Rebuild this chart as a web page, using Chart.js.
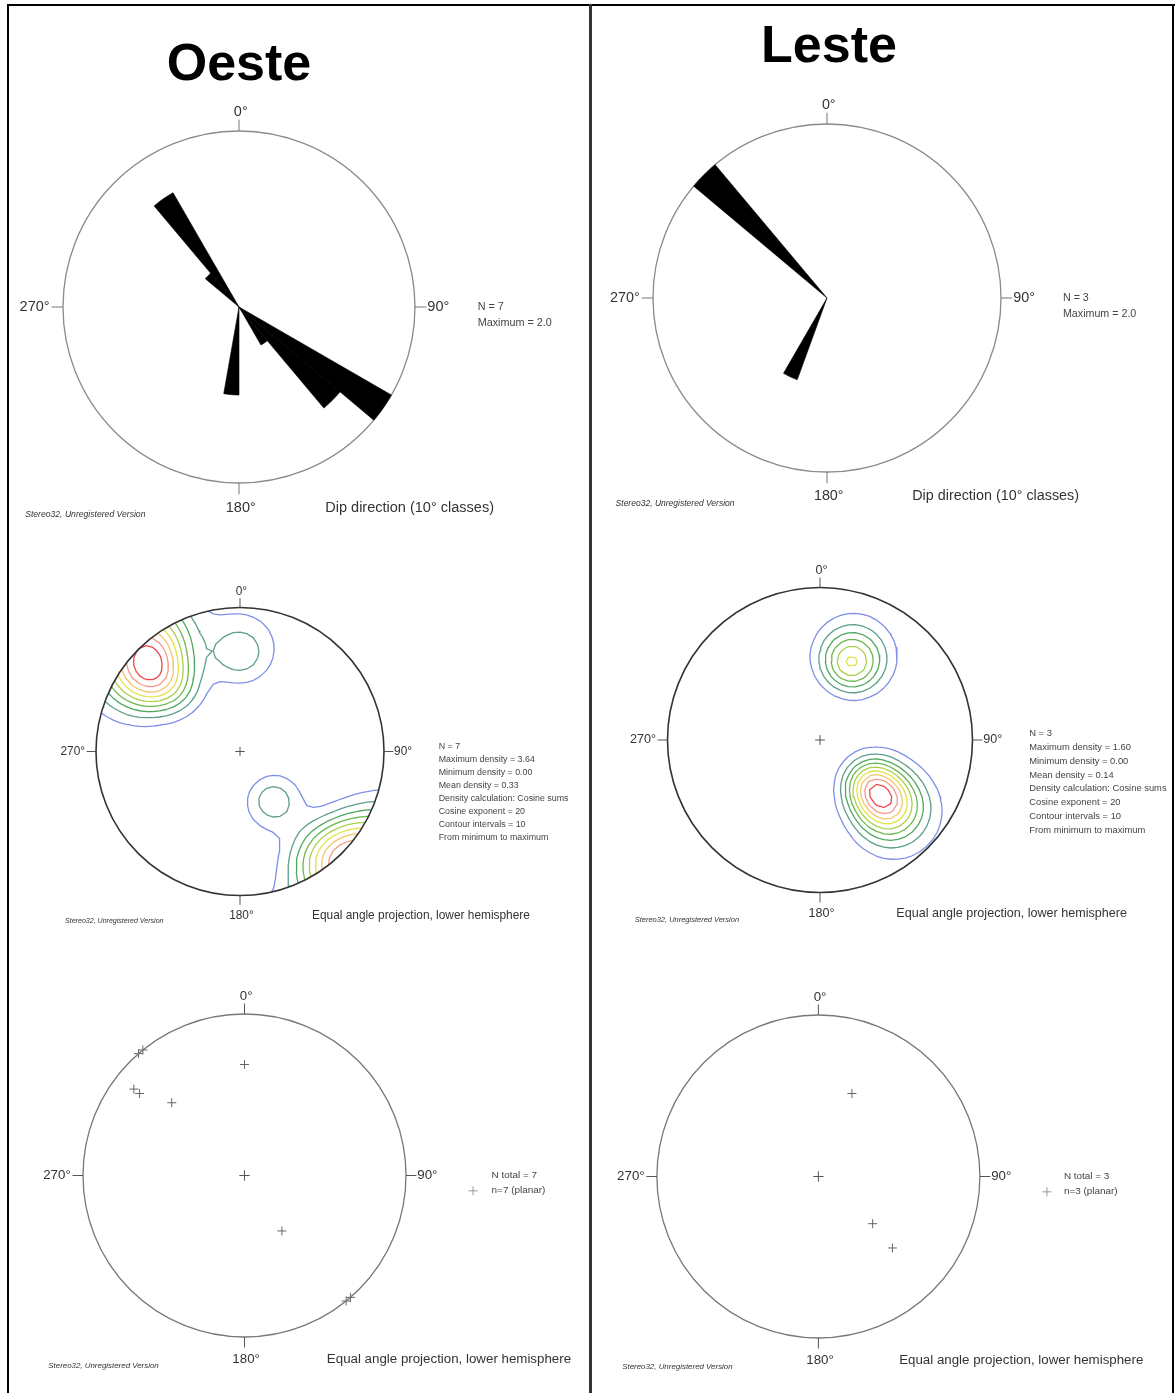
<!DOCTYPE html>
<html><head><meta charset="utf-8">
<script src="https://cdn.jsdelivr.net/npm/chart.js@4.4.0/dist/chart.umd.min.js"></script>
<style>
html,body{margin:0;padding:0;background:#fff}
body{width:1175px;height:1393px;position:relative;overflow:hidden;font-family:"Liberation Sans",Arial,sans-serif}
.ln{position:absolute;background:#000}
.title{position:absolute;font-weight:bold;font-size:52px;color:#000;line-height:52px;transform:translateX(-50%);white-space:nowrap}
.plot{position:absolute}
</style></head><body>
<div class="ln" style="left:7px;top:4px;width:1168px;height:2px"></div>
<div class="ln" style="left:7px;top:4px;width:2px;height:1389px"></div>
<div class="ln" style="left:589px;top:4px;width:3px;height:1389px;background:#333"></div>
<div class="ln" style="left:1172px;top:4px;width:2px;height:1389px"></div>
<div class="title" style="left:239px;top:36px">Oeste</div>
<div class="title" style="left:829px;top:18px">Leste</div>
<div id="host"></div>
<script>
// ---------- DATA ----------
const directionLabels = ['0°', '90°', '180°', '270°'];
// rose bins: dip direction classes of 10°
const roseBins = [];
for (let a = 0; a < 360; a += 10) roseBins.push(a + '-' + (a + 10));
// Oeste rose (dip direction counts per 10° class)
const oesteRose = [0,0,0,0,0,0,0,0,0,0,0,0, 2.0,1.5,0.5, 0,0,0, 1.0, 0,0,0,0,0,0,0,0,0,0,0,0, 0.5,1.5, 0,0,0];
// Leste rose
const lesteRose  = [0,0,0,0,0,0,0,0,0,0,0,0, 0,0,0, 0,0,0, 0,0,1.0,0,0,0,0,0,0,0,0,0,0, 2.0,0, 0,0,0];
const roseMaximum = 2.0;

// planes (dip direction / dip)
const oesteDipDir = [128, 128, 135, 180, 326, 139, 141];
const oesteDip    = [82, 79, 65, 69, 45, 90, 90];
const lesteDipDir = [202, 311, 314];
const lesteDip    = [58, 48, 65];

const oesteMaxDensity = 3.64;
const lesteMaxDensity = 1.60;
const minDensity = 0.00;
const cosineExponent = 20;
const contourIntervals = 10;

const oesteRoseText = ['N = 7', 'Maximum = 2.0'];
const lesteRoseText = ['N = 3', 'Maximum = 2.0'];
const oesteContourText = ['N = 7','Maximum density = 3.64','Minimum density = 0.00','Mean density = 0.33','Density calculation: Cosine sums','Cosine exponent = 20','Contour intervals = 10','From minimum to maximum'];
const lesteContourText = ['N = 3','Maximum density = 1.60','Minimum density = 0.00','Mean density = 0.14','Density calculation: Cosine sums','Cosine exponent = 20','Contour intervals = 10','From minimum to maximum'];
const oestePoleText = ['N total = 7', 'n=7 (planar)'];
const lestePoleText = ['N total = 3', 'n=3 (planar)'];
const roseCaption = 'Dip direction (10° classes)';
const netCaption = 'Equal angle projection, lower hemisphere';
const watermark = 'Stereo32, Unregistered Version';

const contourColors = ['#7f8fe6','#5e9e8a','#4fa85f','#6db84f','#a9d24a','#e2e24a','#f7c46a','#f59a8a','#ee4a4a'];

// ---------- helpers ----------
const rad = d => d * Math.PI / 180;
function polesOf(dd, dip) { // trend, plunge in radians
  return dd.map((d, i) => [rad((d + 180) % 360), rad(90 - dip[i])]);
}
function projectPoles(dd, dip) {
  const pts = [];
  dd.forEach((d, i) => {
    const t = rad((d + 180) % 360), p = 90 - dip[i];
    const r = Math.tan(rad((90 - p) / 2));
    pts.push({x: r * Math.sin(t), y: r * Math.cos(t)});
    if (p === 0) pts.push({x: -r * Math.sin(t), y: -r * Math.cos(t)});
  });
  return pts;
}
function density(x, y, poles) {
  const r = Math.hypot(x, y), az = Math.atan2(x, y), th = 2 * Math.atan(r);
  const st = Math.sin(th), ct = Math.cos(th);
  let s = 0;
  for (const [t, p] of poles) {
    const d = st * Math.cos(p) * Math.cos(az - t) + ct * Math.sin(p);
    s += Math.pow(Math.abs(d), cosineExponent);
  }
  return s;
}
function contourDatasets(poles, maxD) {
  const n = 46, lo = -1.07, hi = 1.07, step = (hi - lo) / n;
  const X = i => lo + i * step;
  const V = [];
  for (let j = 0; j <= n; j++) { V[j] = []; for (let i = 0; i <= n; i++) V[j][i] = density(X(i), X(j), poles); }
  const sets = [];
  for (let k = 1; k < contourIntervals; k++) {
    const L = minDensity + (maxD - minDensity) * k / contourIntervals;
    const segs = [];
    const ip = (x1, y1, v1, x2, y2, v2) => { const f = (L - v1) / (v2 - v1); return [x1 + f * (x2 - x1), y1 + f * (y2 - y1)]; };
    for (let j = 0; j < n; j++) for (let i = 0; i < n; i++) {
      const a = V[j][i], b = V[j][i+1], c = V[j+1][i+1], d = V[j+1][i];
      const x0 = X(i), x1 = X(i+1), y0 = X(j), y1 = X(j+1);
      const idx = (a >= L ? 1 : 0) | (b >= L ? 2 : 0) | (c >= L ? 4 : 0) | (d >= L ? 8 : 0);
      if (idx === 0 || idx === 15) continue;
      const e = [
        () => ip(x0, y0, a, x1, y0, b),
        () => ip(x1, y0, b, x1, y1, c),
        () => ip(x0, y1, d, x1, y1, c),
        () => ip(x0, y0, a, x0, y1, d)
      ];
      const ctr = (a + b + c + d) / 4 >= L;
      let pairs;
      switch (idx) {
        case 1: case 14: pairs = [[3,0]]; break;
        case 2: case 13: pairs = [[0,1]]; break;
        case 3: case 12: pairs = [[3,1]]; break;
        case 4: case 11: pairs = [[1,2]]; break;
        case 6: case 9: pairs = [[0,2]]; break;
        case 7: case 8: pairs = [[3,2]]; break;
        case 5: pairs = ctr ? [[0,1],[2,3]] : [[3,0],[1,2]]; break;
        case 10: pairs = ctr ? [[3,0],[1,2]] : [[0,1],[2,3]]; break;
      }
      for (const [p, q] of pairs) segs.push([e[p](), e[q]()]);
    }
    // stitch
    const key = p => p[0].toFixed(7) + ',' + p[1].toFixed(7);
    const map = new Map();
    segs.forEach((s, si) => { for (const ep of s) { const kk = key(ep); if (!map.has(kk)) map.set(kk, []); map.get(kk).push(si); } });
    const used = new Array(segs.length).fill(false);
    const data = [];
    for (let si = 0; si < segs.length; si++) {
      if (used[si]) continue; used[si] = true;
      const line = [segs[si][0], segs[si][1]];
      for (const dir of [1, -1]) {
        while (true) {
          const end = dir === 1 ? line[line.length - 1] : line[0];
          const ke = key(end);
          const cand = (map.get(ke) || []).find(z => !used[z]);
          if (cand === undefined) break;
          used[cand] = true;
          const s = segs[cand];
          const nx = key(s[0]) === ke ? s[1] : s[0];
          if (dir === 1) line.push(nx); else line.unshift(nx);
        }
      }
      line.forEach(p => data.push({x: p[0], y: p[1]}));
      data.push({x: null, y: null});
    }
    sets.push({
      data, showLine: true, pointRadius: 0, borderColor: contourColors[k - 1],
      borderWidth: 1.3, tension: 0, spanGaps: false, borderCapStyle: 'round', borderJoinStyle: 'round'
    });
  }
  return sets;
}

// ---------- decoration plugin ----------
const decor = {
  id: 'decor',
  geo(chart) {
    if (chart.scales.r) { const s = chart.scales.r; return {cx: s.xCenter, cy: s.yCenter, R: s.drawingArea}; }
    const sx = chart.scales.x, sy = chart.scales.y;
    const cx = sx.getPixelForValue(0), cy = sy.getPixelForValue(0);
    return {cx, cy, R: sx.getPixelForValue(1) - cx};
  },
  beforeDatasetsDraw(chart, args, o) {
    if (!o.clip) return;
    const {cx, cy, R} = this.geo(chart);
    const ctx = chart.ctx; ctx.save(); ctx.beginPath(); ctx.arc(cx, cy, R, 0, Math.PI * 2); ctx.clip();
  },
  afterDatasetsDraw(chart, args, o) {
    if (o.clip) chart.ctx.restore();
  },
  afterDraw(chart, args, o) {
    const {cx, cy, R} = this.geo(chart);
    const ctx = chart.ctx;
    ctx.save();
    if (o.circle) {
      ctx.beginPath(); ctx.arc(cx, cy, R, 0, Math.PI * 2);
      ctx.strokeStyle = o.circle.color; ctx.lineWidth = o.circle.width; ctx.stroke();
    }
    // ticks
    const tl = 0.065 * R;
    ctx.strokeStyle = o.tickColor || '#555'; ctx.lineWidth = 1;
    ctx.beginPath();
    ctx.moveTo(cx, cy - R); ctx.lineTo(cx, cy - R - tl);
    ctx.moveTo(cx + R, cy); ctx.lineTo(cx + R + tl, cy);
    ctx.moveTo(cx, cy + R); ctx.lineTo(cx, cy + R + tl);
    ctx.moveTo(cx - R, cy); ctx.lineTo(cx - R - tl, cy);
    ctx.stroke();
    if (o.center) {
      const c = 0.032 * R;
      ctx.strokeStyle = '#555'; ctx.beginPath();
      ctx.moveTo(cx - c, cy); ctx.lineTo(cx + c, cy); ctx.moveTo(cx, cy - c); ctx.lineTo(cx, cy + c); ctx.stroke();
    }
    const fam = '"Liberation Sans", Arial, sans-serif';
    const big = 0.0825 * R, small = 0.0615 * R;
    ctx.fillStyle = '#333';
    ctx.font = big + 'px ' + fam;
    ctx.textBaseline = 'middle';
    ctx.textAlign = 'center';
    ctx.fillText(directionLabels[0], cx + 0.01 * R, cy - 1.11 * R);
    ctx.fillText(directionLabels[2], cx + 0.01 * R, cy + 1.14 * R);
    ctx.textAlign = 'left';
    ctx.fillText(directionLabels[1], cx + 1.07 * R, cy);
    ctx.textAlign = 'right';
    ctx.fillText(directionLabels[3], cx - 1.076 * R, cy);
    ctx.textAlign = 'left';
    ctx.fillText(o.caption, cx + o.capX * R, cy + 1.14 * R);
    // side text
    ctx.font = small + 'px ' + fam;
    ctx.fillStyle = '#444';
    o.side.forEach((t, i) => ctx.fillText(t, cx + o.sideX * R, cy + (o.sideY + 0.09 * i) * R));
    if (o.legendCross) {
      const lx = cx + 1.415 * R, ly = cy + (o.sideY + 0.095) * R, c = 0.028 * R;
      ctx.strokeStyle = '#999'; ctx.beginPath();
      ctx.moveTo(lx - c, ly); ctx.lineTo(lx + c, ly); ctx.moveTo(lx, ly - c); ctx.lineTo(lx, ly + c); ctx.stroke();
    }
    ctx.font = 'italic ' + (0.049 * R) + 'px ' + fam;
    ctx.fillStyle = '#333';
    ctx.fillText(watermark, cx - 1.215 * R, cy + 1.18 * R);
    ctx.restore();
  }
};

// ---------- build ----------
function makeCanvas(cx, cy, R) {
  const L = Math.floor(cx - 1.32 * R), T = Math.floor(cy - 1.2 * R);
  const W = Math.ceil(3.72 * R), H = Math.ceil(2.48 * R);
  const div = document.createElement('div');
  div.className = 'plot';
  div.style.left = L + 'px'; div.style.top = T + 'px';
  div.style.width = W + 'px'; div.style.height = H + 'px';
  const cv = document.createElement('canvas');
  cv.width = W; cv.height = H; cv.style.width = W + 'px'; cv.style.height = H + 'px';
  div.appendChild(cv);
  document.getElementById('host').appendChild(div);
  const padding = {left: cx - R - L, top: cy - R - T, right: W - (cx + R - L), bottom: H - (cy + R - T)};
  return {cv, padding};
}
const common = {responsive: false, animation: false, devicePixelRatio: 1, events: []};

function rosePlot(cx, cy, R, values, side) {
  const {cv, padding} = makeCanvas(cx, cy, R);
  new Chart(cv, {
    type: 'polarArea',
    data: {labels: roseBins, datasets: [{data: values, backgroundColor: '#000', borderColor: '#000', borderWidth: 0.6}]},
    options: Object.assign({}, common, {
      layout: {padding},
      scales: {r: {min: 0, max: roseMaximum, startAngle: 0,
        ticks: {display: false, stepSize: roseMaximum},
        grid: {circular: true, color: '#8a8a8a', lineWidth: 1.3},
        angleLines: {display: false}, pointLabels: {display: false}}},
      plugins: {legend: {display: false}, tooltip: {enabled: false},
        decor: {side, sideX: 1.356, sideY: 0, caption: roseCaption, capX: 0.49, tickColor: '#777'}}
    }),
    plugins: [decor]
  });
}
function netPlot(cx, cy, R, datasets, opts) {
  const {cv, padding} = makeCanvas(cx, cy, R);
  new Chart(cv, {
    type: 'scatter',
    data: {datasets},
    options: Object.assign({}, common, {
      layout: {padding},
      scales: {x: {type: 'linear', min: -1, max: 1, display: false}, y: {type: 'linear', min: -1, max: 1, display: false}},
      plugins: Object.assign({legend: {display: false}, tooltip: {enabled: false}}, {decor: opts})
    }),
    plugins: [decor]
  });
}

rosePlot(239, 307, 176, oesteRose, oesteRoseText);
rosePlot(827, 298, 174.5, lesteRose, lesteRoseText);

netPlot(240, 751.5, 144, contourDatasets(polesOf(oesteDipDir, oesteDip), oesteMaxDensity),
  {clip: true, circle: {color: '#333', width: 1.6}, center: true, side: oesteContourText, sideX: 1.38, sideY: -0.035, caption: netCaption, capX: 0.5});
netPlot(820, 740, 152.5, contourDatasets(polesOf(lesteDipDir, lesteDip), lesteMaxDensity),
  {clip: true, circle: {color: '#333', width: 1.6}, center: true, side: lesteContourText, sideX: 1.372, sideY: -0.04, caption: netCaption, capX: 0.5});

const poleStyle = {pointStyle: 'cross', pointRadius: 4.5, borderColor: '#666', borderWidth: 1, backgroundColor: '#666', showLine: false};
netPlot(244.5, 1175.5, 161.5, [Object.assign({data: projectPoles(oesteDipDir, oesteDip)}, poleStyle)],
  {clip: false, circle: {color: '#777', width: 1.3}, center: true, side: oestePoleText, sideX: 1.53, sideY: 0, legendCross: true, caption: netCaption, capX: 0.51});
netPlot(818.4, 1176.5, 161.5, [Object.assign({data: projectPoles(lesteDipDir, lesteDip)}, poleStyle)],
  {clip: false, circle: {color: '#777', width: 1.3}, center: true, side: lestePoleText, sideX: 1.52, sideY: 0, legendCross: true, caption: netCaption, capX: 0.5});
</script>
</body></html>
